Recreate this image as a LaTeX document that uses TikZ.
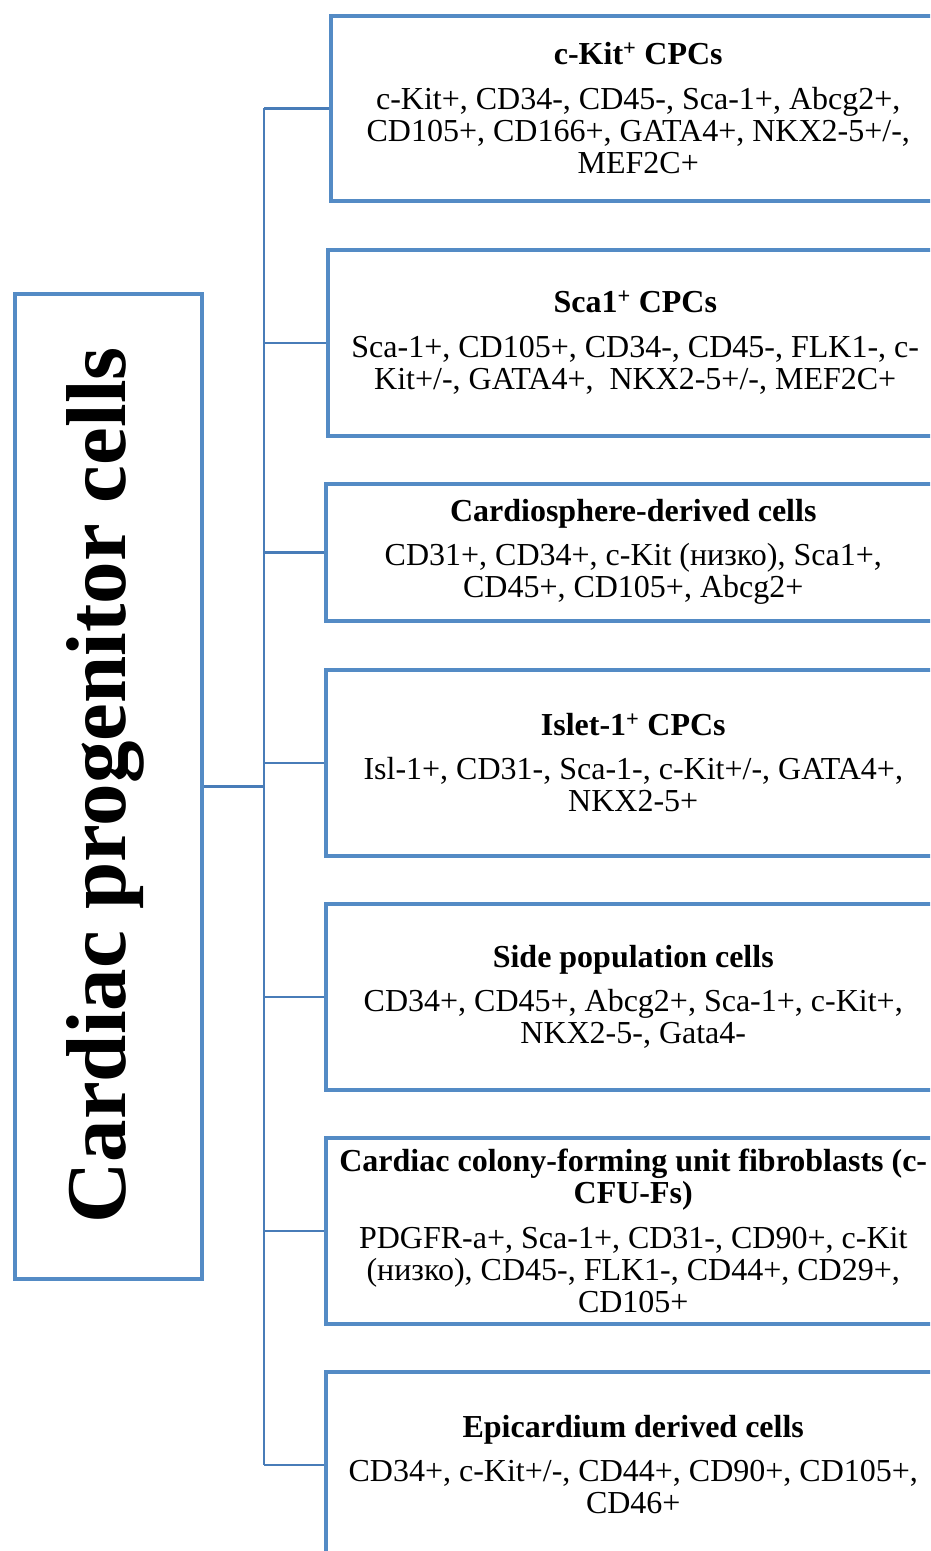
\documentclass[tikz,border=0pt]{standalone}
\usepackage{fontspec}
\setmainfont{Liberation Serif}
\definecolor{boxblue}{RGB}{84,139,197}
\definecolor{lineblue}{RGB}{72,124,184}
\tikzset{
  cbox/.style={draw=boxblue, line width=3.5pt, rectangle, anchor=north west,
    minimum width=615pt, align=center, inner sep=0pt,
    font=\fontsize{32}{32}\selectfont},
  conn/.style={draw=lineblue, line width=2.5pt},
}
\begin{document}
\begin{tikzpicture}[x=1pt,y=-1pt]
\clip (0,0) rectangle (930,1551);
\fill[white] (0,0) rectangle (930,1551);

% left box
\node[draw=boxblue, line width=4pt, rectangle, anchor=north west,
  minimum width=187pt, minimum height=985pt, inner sep=0pt] (L) at (13,292) {};
\node[rotate=90, font=\fontsize{85}{90}\selectfont\bfseries, inner sep=0pt] (Lt)
  at (105,785.5) {Cardiac progenitor cells};

% right boxes
\node[cbox, minimum height=185pt] (b1) at (329,14)
  {\textbf{c-Kit\textsuperscript{+} CPCs}\\[13pt]
   c-Kit+, CD34-, CD45-, Sca-1+, Abcg2+,\\
   CD105+, CD166+, GATA4+, NKX2-5+/-,\\
   MEF2C+};
\node[cbox, minimum height=186pt] (b2) at (326,248)
  {\textbf{Sca1\textsuperscript{+} CPCs}\\[13pt]
   Sca-1+, CD105+, CD34-, CD45-, FLK1-, c-\\
   Kit+/-, GATA4+,~ NKX2-5+/-, MEF2C+};
\node[cbox, minimum height=137pt] (b3) at (324,482)
  {\textbf{Cardiosphere-derived cells}\\[12pt]
   CD31+, CD34+, c-Kit (низко), Sca1+,\\
   CD45+, CD105+, Abcg2+};
\node[cbox, minimum height=186pt] (b4) at (324,668)
  {\textbf{Islet-1\textsuperscript{+} CPCs}\\[12pt]
   Isl-1+, CD31-, Sca-1-, c-Kit+/-, GATA4+,\\
   NKX2-5+};
\node[cbox, minimum height=186pt] (b5) at (324,902)
  {\textbf{Side population cells}\\[12pt]
   CD34+, CD45+, Abcg2+, Sca-1+, c-Kit+,\\
   NKX2-5-, Gata4-};
\node[cbox, minimum height=186pt] (b6) at (324,1136)
  {\textbf{Cardiac colony-forming unit fibroblasts (c-}\\
   \textbf{CFU-Fs)}\\[13pt]
   PDGFR-a+, Sca-1+, CD31-, CD90+, c-Kit\\
   (низко), CD45-, FLK1-, CD44+, CD29+,\\
   CD105+};
\node[cbox, minimum height=186pt] (b7) at (324,1370)
  {\textbf{Epicardium derived cells}\\[12pt]
   CD34+, c-Kit+/-, CD44+, CD90+, CD105+,\\
   CD46+};

% connectors
\coordinate (tx) at (264,0);
\coordinate (t1) at (b1.west -| tx);
\coordinate (t7) at (b7.west -| tx);
\draw[conn] (t1) -- (t7);
\draw[conn] (L.east) -- (L.east -| tx);
\foreach \b in {b1,b2,b3,b4,b5,b6,b7}{
  \draw[conn] (\b.west -| tx) -- (\b.west);
}
\end{tikzpicture}
\end{document}
